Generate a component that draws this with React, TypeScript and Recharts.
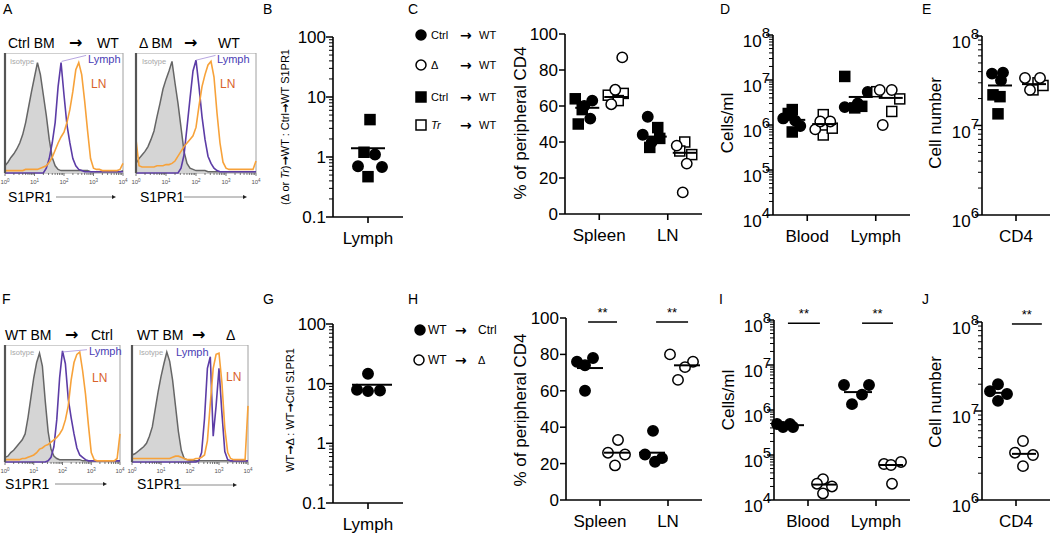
import React from "react";
import {
  ComposedChart,
  Area,
  Line,
  XAxis,
  YAxis,
  ReferenceArea,
  ReferenceLine,
  ScatterChart,
  Scatter,
} from "recharts";

const FONT = "'Liberation Sans', Arial, Helvetica, sans-serif";

// ---------- flow histograms: % of max, one bin every 0.1 log10 unit (10^0 .. 10^4)
const A1_ISO = [6, 9, 13, 16, 20, 25, 32, 42, 55, 68, 80, 92, 82, 65, 48, 28, 13, 6, 3, 2, 2, 2, 2, 2, 2, 2, 2, 2, 2, 1, 1, 1, 1, 1, 1, 1, 1, 1, 1, 1, 2];
const A1_LYMPH = [0, 0, 0, 0, 0, 0, 0, 0, 0, 0, 0, 0, 0, 0, 4, 12, 25, 42, 72, 92, 65, 40, 25, 12, 6, 3, 2, 1, 1, 1, 1, 1, 1, 1, 1, 1, 1, 1, 1, 1, 1];
const A1_LN = [2, 2, 2, 2, 2, 2, 2, 3, 3, 3, 3, 3, 4, 5, 6, 9, 13, 19, 25, 30, 34, 42, 53, 68, 86, 92, 82, 60, 35, 12, 4, 3, 3, 2, 2, 2, 2, 2, 2, 3, 8];

const A2_ISO = [8, 12, 15, 18, 22, 28, 35, 47, 58, 70, 78, 85, 93, 75, 58, 38, 18, 8, 4, 3, 2, 2, 2, 2, 1, 1, 1, 1, 1, 1, 1, 1, 1, 1, 1, 1, 1, 1, 1, 1, 1];
const A2_LYMPH = [0, 0, 0, 0, 0, 0, 0, 0, 0, 0, 0, 0, 0, 0, 0, 4, 15, 38, 62, 85, 94, 72, 47, 28, 14, 8, 4, 2, 1, 1, 1, 1, 1, 1, 1, 1, 1, 1, 1, 1, 1];
const A2_LN = [28, 6, 5, 5, 5, 5, 5, 6, 6, 6, 7, 7, 8, 10, 14, 18, 22, 25, 28, 31, 38, 56, 72, 82, 90, 93, 80, 50, 25, 9, 4, 3, 3, 3, 3, 3, 3, 3, 3, 3, 10];

const F1_ISO = [4, 5, 8, 10, 13, 16, 19, 24, 38, 55, 72, 85, 93, 82, 52, 26, 11, 5, 3, 2, 2, 2, 2, 2, 2, 2, 2, 1, 1, 1, 1, 1, 1, 1, 1, 1, 1, 1, 1, 1, 1];
const F1_LYMPH = [0, 0, 0, 0, 0, 0, 0, 0, 0, 0, 0, 0, 0, 0, 0, 1, 4, 13, 36, 72, 95, 84, 54, 38, 24, 12, 6, 4, 2, 1, 1, 1, 1, 1, 1, 1, 1, 1, 1, 1, 1];
const F1_LN = [2, 2, 2, 2, 2, 2, 3, 3, 4, 5, 6, 8, 11, 12, 14, 15, 17, 19, 21, 24, 28, 36, 48, 70, 85, 92, 94, 78, 58, 32, 8, 2, 1, 1, 1, 1, 1, 1, 1, 3, 24];

const F2_ISO = [6, 7, 9, 11, 13, 16, 22, 30, 45, 60, 73, 84, 94, 86, 70, 48, 26, 10, 3, 2, 1, 1, 1, 1, 1, 1, 1, 1, 1, 1, 1, 1, 1, 1, 1, 1, 1, 1, 1, 1, 1];
const F2_LYMPH = [0, 0, 0, 0, 0, 0, 0, 0, 0, 0, 0, 0, 0, 0, 0, 0, 0, 0, 0, 0, 0, 0, 0, 1, 8, 37, 80, 90, 22, 48, 80, 42, 9, 2, 1, 1, 1, 1, 1, 1, 1];
const F2_LN = [3, 3, 3, 3, 3, 3, 3, 3, 3, 3, 3, 3, 3, 3, 4, 5, 5, 4, 3, 2, 2, 2, 3, 3, 4, 6, 18, 50, 80, 92, 93, 68, 29, 8, 3, 2, 2, 2, 2, 2, 48];

// ---------- dot plots: values per category (outer array = category)
const B_CATS = ["Lymph"];
const B_SQUARE = [[4.2, 1.2, 0.47]];
const B_CIRCLE = [[1.1, 0.7, 0.68]];
const B_MEAN = [[1.4]];

const C_CATS = ["Spleen", "LN"];
const C_CTRL_CIRCLE = [[63, 53, 60], [54, 44, 40]];
const C_CTRL_SQUARE = [[64, 50, 58], [48, 42, 37]];
const C_DELTA_CIRCLE = [[87, 69, 61], [38, 28, 12]];
const C_TR_SQUARE = [[66, 67, 63], [40, 33, 35]];
const C_MEAN_CTRL = [[59], [43]];
const C_MEAN_MUT = [[65], [34]];

const D_CATS = ["Blood", "Lymph"];
const D_CTRL_CIRCLE = [[1.4e6, 0.95e6, 1.25e6], [2.5e6, 5.4e6, 3.0e6]];
const D_CTRL_SQUARE = [[2.2e6, 0.7e6, 1.8e6], [1.2e7, 2.4e6, 2.6e6]];
const D_DELTA_CIRCLE = [[0.8e6, 1.2e6, 1.2e6], [6e6, 6e6, 1e6]];
const D_TR_SQUARE = [[1.7e6, 0.6e6, 0.85e6], [5.5e6, 3.8e6, 2e6]];
const D_MEAN_CTRL = [[1.3e6], [4.2e6]];
const D_MEAN_MUT = [[1.05e6], [4e6]];

const E_CATS = ["CD4"];
const E_CTRL_CIRCLE = [[3.8e7, 3.9e7, 3.2e7]];
const E_CTRL_SQUARE = [[2.2e7, 2.1e7, 1.35e7]];
const E_DELTA_CIRCLE = [[3.4e7, 3.4e7, 2.5e7]];
const E_TR_SQUARE = [[3.0e7, 2.5e7, 2.8e7]];
const E_MEAN_CTRL = [[2.8e7]];
const E_MEAN_MUT = [[2.9e7]];

const G_CATS = ["Lymph"];
const G_CIRCLE = [[14.7, 7.9, 7.5, 7.7]];
const G_MEAN = [[9.6]];

const H_CATS = ["Spleen", "LN"];
const H_CTRL = [[76, 78, 74, 60], [38, 25, 21, 23]];
const H_DELTA = [[33, 26, 25, 19], [80, 76, 73, 66]];
const H_MEAN_CTRL = [[72.5], [26]];
const H_MEAN_DELTA = [[26], [74]];

const I_CATS = ["Blood", "Lymph"];
const I_CTRL = [[4.9e5, 4.2e5, 4.9e5, 4.2e5], [3.6e6, 3.6e6, 2.2e6, 1.35e6]];
const I_DELTA = [[2.9e4, 2.3e4, 2.0e4, 1.4e4], [6.3e4, 6e4, 7e4, 2.3e4]];
const I_MEAN_CTRL = [[4.6e5], [2.5e6]];
const I_MEAN_DELTA = [[2.2e4], [6e4]];

const J_CATS = ["CD4"];
const J_CTRL = [[2e7, 1.67e7, 1.55e7, 1.3e7]];
const J_DELTA = [[4.6e6, 3.4e6, 3.2e6, 2.4e6]];
const J_MEAN_CTRL = [[1.6e7]];
const J_MEAN_DELTA = [[3.3e6]];

// axis tick values
const LIN_TICKS = [0, 20, 40, 60, 80, 100];
const RATIO_DECADES = [0.1, 1, 10, 100];
const CELLS_DECADES = [1e4, 1e5, 1e6, 1e7, 1e8];
const CD4_DECADES = [1e6, 1e7, 1e8];
const HIST_DECADES = [0, 1, 2, 3, 4];

// ---------- layout: horizontal scatter of the dots, px from category centre
const JIT = {
  bSq: [[2, -4, 0]], bCi: [[7, -10, 14]], bMean: [[0]],
  cCc: [[-7, -9, -15], [-20, -25, -16]], cCs: [[-24, -21, -17], [-10, -8, -18]],
  cDc: [[23, 16, 12], [9, 19, 15]], cTs: [[9, 24, 19], [17, 24, 12]],
  cMc: [[-12], [-13]], cMm: [[17], [17]],
  dCc: [[-24, -7, -12], [-31, -8, -18]], dCs: [[-15, -15, -19], [-31, -21, -14]],
  dDc: [[8, 13, 23], [4, 16, 7]], dTs: [[16, 16, 25], [1, 24, 16]],
  dMc: [[-14], [-15]], dMm: [[17], [15]],
  eCc: [[-24, -13, -15]], eCs: [[-23, -16, -18]], eDc: [[9, 24, 14]], eTs: [[22, 17, 27]],
  eMc: [[-16]], eMm: [[18]],
  gCi: [[0, -11, 0, 12]], gMean: [[4]],
  hC: [[-23, -7, -15, -15], [-15, -23, -13, -6]], hD: [[18, 8, 25, 15], [2, 25, 17, 10]],
  hMc: [[-10], [-16]], hMd: [[17], [19]],
  iC: [[-31, -25, -18, -15], [-32, -7, -14, -24]], iD: [[15, 9, 24, 15], [8, 15, 25, 16]],
  iMc: [[-18], [-18]], iMd: [[16], [15]],
  jC: [[-18, -26, -9, -18]], jD: [[7, -1, 17, 7]], jMc: [[-17]], jMd: [[8]],
};

function logTicks(decades: number[]) {
  const out: number[] = [];
  for (let i = 0; i < decades.length - 1; i++) {
    for (let m = 1; m < 10; m++) out.push(decades[i] * m);
  }
  out.push(decades[decades.length - 1]);
  return out;
}

function histTicks() {
  const out: number[] = [];
  for (let i = 0; i < HIST_DECADES.length - 1; i++) {
    for (let m = 1; m < 10; m++) out.push(HIST_DECADES[i] + Math.log10(m));
  }
  out.push(HIST_DECADES[HIST_DECADES.length - 1]);
  return out;
}

function HistTick({ x, y, payload }: any) {
  const v = payload.value;
  const major = Math.abs(v - Math.round(v)) < 1e-6;
  return (
    <g>
      <line x1={x} x2={x} y1={y} y2={y + (major ? 3 : 2)} stroke="#555" strokeWidth={0.8} />
      {major && (
        <text x={x} y={y + 11} textAnchor="middle" fontSize={6} fill="#555" fontFamily={FONT}>
          10<tspan dy={-2.5} fontSize={4.5}>{Math.round(v)}</tspan>
        </text>
      )}
    </g>
  );
}

type HistProps = {
  left: number; top: number; w: number; h: number;
  iso: number[]; lymph: number[]; ln: number[];
  callout?: { x: number; y: number }[];
};

function Histogram({ left, top, w, h, iso, lymph, ln, callout }: HistProps) {
  const PAD = 8;
  const rows = iso.map((v, i) => ({ x: i / 10, iso: v, lymph: lymph[i], ln: ln[i] }));
  return (
    <div style={{ position: "absolute", left: left - PAD, top }}>
      <ComposedChart width={w + 2 * PAD} height={h + 16} data={rows} margin={{ top: 0, right: PAD, bottom: 0, left: PAD }}>
        <XAxis
          type="number"
          dataKey="x"
          domain={[0, 4]}
          ticks={histTicks()}
          interval={0}
          height={16}
          tickSize={0}
          tickMargin={0}
          axisLine={false}
          tick={(p: any) => <HistTick {...p} />}
        />
        <YAxis hide type="number" domain={[0, 100]} />
        <ReferenceArea x1={0} x2={4} y1={0} y2={100} fill="none" stroke="#a0a0a0" strokeWidth={1} />
        <Area dataKey="iso" type="linear" fill="#d5d5d5" fillOpacity={1} stroke="#666" strokeWidth={1.5} isAnimationActive={false} />
        <Line dataKey="lymph" type="linear" stroke="#5c3ca6" strokeWidth={1.6} dot={false} isAnimationActive={false} />
        <Line dataKey="ln" type="linear" stroke="#f7a23a" strokeWidth={1.6} dot={false} isAnimationActive={false} />
        <ReferenceLine x={0} stroke="#555" strokeWidth={2.2} />
        {callout && <ReferenceLine segment={callout} stroke="#a48fd8" strokeWidth={0.8} ifOverflow="visible" />}
      </ComposedChart>
    </div>
  );
}

function YTick({ x, y, payload, kind }: any) {
  const v = payload.value;
  if (kind === "lin") {
    return (
      <g>
        <line x1={x} x2={x - 6} y1={y} y2={y} stroke="#000" strokeWidth={1.5} />
        <text x={x - 7} y={y + 6} textAnchor="end" fontSize={17} fontFamily={FONT} fill="#000">{v}</text>
      </g>
    );
  }
  const e = Math.log10(v);
  const major = Math.abs(e - Math.round(e)) < 1e-6;
  return (
    <g>
      <line x1={x} x2={x - (major ? 7 : 4)} y1={y} y2={y} stroke="#000" strokeWidth={major ? 1.5 : 1} />
      {major && kind === "dec" && (
        <text x={x - 7} y={y + 6} textAnchor="end" fontSize={17} fontFamily={FONT} fill="#000">
          {v >= 1 ? String(Math.round(v)) : v.toFixed(1)}
        </text>
      )}
      {major && kind === "pow" && (
        <text x={x - 3} y={y + 12} textAnchor="end" fontSize={17} fontFamily={FONT} fill="#000">
          10<tspan dy={-9} fontSize={15}>{Math.round(e)}</tspan>
        </text>
      )}
    </g>
  );
}

type Series = {
  vals: number[][];
  jit: number[][];
  kind: "circle" | "square" | "mean";
  filled?: boolean;
  hw?: number;
};

function markShape(s: Series) {
  return (p: any) => {
    const { cx, cy } = p;
    if (s.kind === "mean") {
      const hw = s.hw ?? 13;
      return <line x1={cx - hw} x2={cx + hw} y1={cy} y2={cy} stroke="#000" strokeWidth={2} />;
    }
    const fill = s.filled ? "#000" : "#fff";
    if (s.kind === "square") {
      return <rect x={cx - 5} y={cy - 5} width={10} height={10} fill={fill} stroke="#000" strokeWidth={1.5} />;
    }
    return <circle cx={cx} cy={cy} r={5.2} fill={fill} stroke="#000" strokeWidth={1.5} />;
  };
}

type PanelProps = {
  x0: number; x1: number; y0: number; y1: number;
  cats: string[];
  log: boolean;
  domain: [number, number];
  ticks: number[];
  tickKind: "lin" | "dec" | "pow";
  series: Series[];
  sig?: { from: number; to: number; y: number }[];
};

function DotPanel({ x0, x1, y0, y1, cats, log, domain, ticks, tickKind, series, sig }: PanelProps) {
  const W = 60;
  const TOP = 16;
  const BOT = 36;
  const right = Math.max(0, Math.min(6, 1050 - x1));
  const span = cats.length * 2;
  const unit = (x1 - x0) / span;
  const catX = cats.map((_, i) => 1 + 2 * i);
  const pts = (s: Series) =>
    s.vals.flatMap((arr, ci) => arr.map((v, k) => ({ x: catX[ci] + s.jit[ci][k] / unit, y: v })));
  return (
    <div style={{ position: "absolute", left: x0 - W, top: y0 - TOP }}>
      <ScatterChart
        width={W + (x1 - x0) + right}
        height={TOP + (y1 - y0) + BOT}
        margin={{ top: TOP, right, bottom: 0, left: 0 }}
      >
        <XAxis
          type="number"
          dataKey="x"
          domain={[0, span]}
          ticks={catX}
          interval={0}
          tickFormatter={(v: number) => cats[(v - 1) / 2]}
          height={BOT}
          tickSize={6}
          tickMargin={9}
          axisLine={{ stroke: "#000", strokeWidth: 1.6 }}
          tickLine={{ stroke: "#000", strokeWidth: 1.6 }}
          tick={{ fill: "#000", fontSize: 17, fontFamily: FONT }}
        />
        <YAxis
          type="number"
          dataKey="y"
          scale={log ? "log" : "linear"}
          domain={domain}
          ticks={ticks}
          interval={0}
          width={W}
          tickSize={0}
          tickMargin={0}
          axisLine={{ stroke: "#000", strokeWidth: 1.6 }}
          tickLine={false}
          tick={(p: any) => <YTick {...p} kind={tickKind} />}
        />
        {series.map((s, i) => (
          <Scatter key={i} data={pts(s)} shape={markShape(s)} isAnimationActive={false} />
        ))}
        {sig?.map((b, i) => (
          <ReferenceLine
            key={"s" + i}
            segment={[{ x: b.from, y: b.y }, { x: b.to, y: b.y }]}
            stroke="#000"
            strokeWidth={1.5}
            ifOverflow="visible"
            label={{ value: "**", position: "top", fontSize: 13, fill: "#000", fontFamily: FONT }}
          />
        ))}
      </ScatterChart>
    </div>
  );
}

const ARROW_FONT = "'DejaVu Sans', sans-serif";

function Arrow({ x, y, size = 16 }: { x: number; y: number; size?: number }) {
  return (
    <text x={x} y={y} fontSize={size} fontWeight="bold" fontFamily={ARROW_FONT} fill="#000">→</text>
  );
}

function AxisArrow({ x1, x2, y }: { x1: number; x2: number; y: number }) {
  return (
    <g>
      <line x1={x1} x2={x2 - 3} y1={y} y2={y} stroke="#8a8a8a" strokeWidth={1} />
      <polygon points={`${x2},${y} ${x2 - 4},${y - 2} ${x2 - 4},${y + 2}`} fill="#222" />
    </g>
  );
}

function VLabel({ x, y, size = 17, children }: { x: number; y: number; size?: number; children: React.ReactNode }) {
  return (
    <text
      x={x}
      y={y}
      transform={`rotate(-90 ${x} ${y})`}
      textAnchor="middle"
      dominantBaseline="central"
      fontSize={size}
      fontFamily={FONT}
      fill="#000"
    >
      {children}
    </text>
  );
}

function LegendSym({ x, y, kind, filled }: { x: number; y: number; kind: "circle" | "square"; filled: boolean }) {
  const fill = filled ? "#000" : "#fff";
  return kind === "circle" ? (
    <circle cx={x} cy={y} r={5} fill={fill} stroke="#000" strokeWidth={1.5} />
  ) : (
    <rect x={x - 5} y={y - 5} width={10} height={10} fill={fill} stroke="#000" strokeWidth={1.5} />
  );
}

function Overlay() {
  const t = (x: number, y: number, s: string, size = 14, extra: any = {}) => (
    <text x={x} y={y} fontSize={size} fontFamily={FONT} fill="#000" {...extra}>{s}</text>
  );
  const legC: { kind: "circle" | "square"; filled: boolean; label: React.ReactNode; y: number }[] = [
    { kind: "circle", filled: true, label: "Ctrl", y: 35 },
    { kind: "circle", filled: false, label: "Δ", y: 65 },
    { kind: "square", filled: true, label: "Ctrl", y: 97 },
    { kind: "square", filled: false, label: <tspan fontStyle="italic">Tr</tspan>, y: 125 },
  ];
  return (
    <svg width={1050} height={535} style={{ position: "absolute", left: 0, top: 0, pointerEvents: "none" }}>
      {/* panel letters */}
      {t(3, 14, "A")}
      {t(263, 14, "B")}
      {t(408, 14, "C")}
      {t(720, 14, "D")}
      {t(922, 14, "E")}
      {t(2, 304, "F")}
      {t(263, 304, "G")}
      {t(408, 304, "H")}
      {t(719, 304, "I")}
      {t(922, 304, "J")}

      {/* histogram titles */}
      {t(8, 48, "Ctrl BM")}
      <Arrow x={69} y={48} />
      {t(97, 48, "WT")}
      {t(139, 48, "Δ BM")}
      <Arrow x={184} y={48} />
      {t(218, 48, "WT")}
      {t(5, 340, "WT BM")}
      <Arrow x={65} y={340} />
      {t(91, 340, "Ctrl")}
      {t(137, 340, "WT BM")}
      <Arrow x={192} y={340} />
      {t(226, 340, "Δ")}

      {/* histogram annotations */}
      {t(10, 64, "Isotype", 7.5, { fill: "#a8a8a8" })}
      {t(142, 64, "Isotype", 7.5, { fill: "#a8a8a8" })}
      {t(10, 355, "Isotype", 7.5, { fill: "#a8a8a8" })}
      {t(139, 355, "Isotype", 7.5, { fill: "#a8a8a8" })}
      {t(88, 63, "Lymph", 11, { fill: "#4a3db5" })}
      {t(217, 63, "Lymph", 11, { fill: "#4a3db5" })}
      {t(89, 355, "Lymph", 11, { fill: "#4a3db5" })}
      {t(176, 356, "Lymph", 11, { fill: "#4a3db5" })}
      {t(91, 88, "LN", 12, { fill: "#d9622b" })}
      {t(220, 88, "LN", 12, { fill: "#d9622b" })}
      {t(92, 382, "LN", 12, { fill: "#d9622b" })}
      {t(226, 381, "LN", 12, { fill: "#d9622b" })}

      {/* histogram x labels */}
      {t(8, 202, "S1PR1")}
      <AxisArrow x1={56} x2={116} y={197} />
      {t(140, 202, "S1PR1")}
      <AxisArrow x1={184} x2={247} y={197} />
      {t(5, 489, "S1PR1")}
      <AxisArrow x1={55} x2={107} y={484} />
      {t(137, 489, "S1PR1")}
      <AxisArrow x1={177} x2={237} y={485} />

      {/* legend C */}
      {legC.map((r, i) => (
        <g key={i}>
          <LegendSym x={421} y={r.y} kind={r.kind} filled={r.filled} />
          <text x={431} y={r.y + 4} fontSize={11} fontFamily={FONT} fill="#000">{r.label}</text>
          <Arrow x={460} y={r.y + 5} size={14} />
          {t(479, r.y + 4, "WT", 11)}
        </g>
      ))}

      {/* legend H */}
      <LegendSym x={420} y={330} kind="circle" filled={true} />
      {t(428, 334, "WT", 12)}
      <Arrow x={455} y={335} size={14} />
      {t(478, 334, "Ctrl", 12)}
      <LegendSym x={419} y={360} kind="circle" filled={false} />
      {t(428, 364, "WT", 12)}
      <Arrow x={455} y={365} size={14} />
      {t(478, 364, "Δ", 11)}

      {/* y axis titles */}
      <VLabel x={285} y={127} size={11}>
        (Δ or <tspan fontStyle="italic">Tr</tspan>)<tspan fontWeight="bold" fontFamily={ARROW_FONT}>→</tspan>WT : Ctrl
        <tspan fontWeight="bold" fontFamily={ARROW_FONT}>→</tspan>WT S1PR1
      </VLabel>
      <VLabel x={290} y={410} size={11}>
        WT<tspan fontWeight="bold" fontFamily={ARROW_FONT}>→</tspan>Δ : WT
        <tspan fontWeight="bold" fontFamily={ARROW_FONT}>→</tspan>Ctrl S1PR1
      </VLabel>
      <VLabel x={520} y={123}>% of peripheral CD4</VLabel>
      <VLabel x={520} y={410}>% of peripheral CD4</VLabel>
      <VLabel x={727} y={123}>Cells/ml</VLabel>
      <VLabel x={728} y={400}>Cells/ml</VLabel>
      <VLabel x={935} y={123}>Cell number</VLabel>
      <VLabel x={935} y={402}>Cell number</VLabel>
    </svg>
  );
}

export default function App() {
  const cellsTicks = logTicks(CELLS_DECADES);
  const cd4Ticks = logTicks(CD4_DECADES);
  const ratioTicks = logTicks(RATIO_DECADES);
  return (
    <div
      style={{
        position: "absolute",
        left: 0,
        top: 0,
        width: 1050,
        height: 535,
        overflow: "hidden",
        background: "#fff",
        fontFamily: FONT,
      }}
    >
      <Histogram left={5} top={53} w={118} h={120} iso={A1_ISO} lymph={A1_LYMPH} ln={A1_LN}
        callout={[{ x: 1.92, y: 93 }, { x: 2.75, y: 98 }]} />
      <Histogram left={136} top={53} w={120} h={120} iso={A2_ISO} lymph={A2_LYMPH} ln={A2_LN}
        callout={[{ x: 2.0, y: 94 }, { x: 2.65, y: 98 }]} />
      <Histogram left={5} top={345} w={115} h={117} iso={F1_ISO} lymph={F1_LYMPH} ln={F1_LN}
        callout={[{ x: 2.0, y: 94 }, { x: 2.85, y: 96 }]} />
      <Histogram left={132} top={345} w={116} h={117} iso={F2_ISO} lymph={F2_LYMPH} ln={F2_LN} />

      <DotPanel x0={333} x1={403} y0={37} y1={217} cats={B_CATS} log domain={[0.1, 100]} ticks={ratioTicks} tickKind="dec"
        series={[
          { vals: B_SQUARE, jit: JIT.bSq, kind: "square", filled: true },
          { vals: B_CIRCLE, jit: JIT.bCi, kind: "circle", filled: true },
          { vals: B_MEAN, jit: JIT.bMean, kind: "mean", hw: 17 },
        ]} />

      <DotPanel x0={565} x1={702} y0={34} y1={214} cats={C_CATS} log={false} domain={[0, 100]} ticks={LIN_TICKS} tickKind="lin"
        series={[
          { vals: C_CTRL_SQUARE, jit: JIT.cCs, kind: "square", filled: true },
          { vals: C_CTRL_CIRCLE, jit: JIT.cCc, kind: "circle", filled: true },
          { vals: C_TR_SQUARE, jit: JIT.cTs, kind: "square", filled: false },
          { vals: C_DELTA_CIRCLE, jit: JIT.cDc, kind: "circle", filled: false },
          { vals: C_MEAN_CTRL, jit: JIT.cMc, kind: "mean", hw: 12 },
          { vals: C_MEAN_MUT, jit: JIT.cMm, kind: "mean", hw: 12 },
        ]} />

      <DotPanel x0={773} x1={910} y0={35} y1={215} cats={D_CATS} log domain={[1e4, 1e8]} ticks={cellsTicks} tickKind="pow"
        series={[
          { vals: D_CTRL_SQUARE, jit: JIT.dCs, kind: "square", filled: true },
          { vals: D_CTRL_CIRCLE, jit: JIT.dCc, kind: "circle", filled: true },
          { vals: D_TR_SQUARE, jit: JIT.dTs, kind: "square", filled: false },
          { vals: D_DELTA_CIRCLE, jit: JIT.dDc, kind: "circle", filled: false },
          { vals: D_MEAN_CTRL, jit: JIT.dMc, kind: "mean", hw: 12 },
          { vals: D_MEAN_MUT, jit: JIT.dMm, kind: "mean", hw: 12 },
        ]} />

      <DotPanel x0={982} x1={1050} y0={36} y1={215} cats={E_CATS} log domain={[1e6, 1e8]} ticks={cd4Ticks} tickKind="pow"
        series={[
          { vals: E_CTRL_SQUARE, jit: JIT.eCs, kind: "square", filled: true },
          { vals: E_CTRL_CIRCLE, jit: JIT.eCc, kind: "circle", filled: true },
          { vals: E_TR_SQUARE, jit: JIT.eTs, kind: "square", filled: false },
          { vals: E_DELTA_CIRCLE, jit: JIT.eDc, kind: "circle", filled: false },
          { vals: E_MEAN_CTRL, jit: JIT.eMc, kind: "mean", hw: 12 },
          { vals: E_MEAN_MUT, jit: JIT.eMm, kind: "mean", hw: 12 },
        ]} />

      <DotPanel x0={333} x1={403} y0={324} y1={503} cats={G_CATS} log domain={[0.1, 100]} ticks={ratioTicks} tickKind="dec"
        series={[
          { vals: G_CIRCLE, jit: JIT.gCi, kind: "circle", filled: true },
          { vals: G_MEAN, jit: JIT.gMean, kind: "mean", hw: 20 },
        ]} />

      <DotPanel x0={566} x1={702} y0={318} y1={500} cats={H_CATS} log={false} domain={[0, 100]} ticks={LIN_TICKS} tickKind="lin"
        series={[
          { vals: H_CTRL, jit: JIT.hC, kind: "circle", filled: true },
          { vals: H_DELTA, jit: JIT.hD, kind: "circle", filled: false },
          { vals: H_MEAN_CTRL, jit: JIT.hMc, kind: "mean", hw: 13 },
          { vals: H_MEAN_DELTA, jit: JIT.hMd, kind: "mean", hw: 13 },
        ]}
        sig={[{ from: 0.65, to: 1.5, y: 97.8 }, { from: 2.65, to: 3.59, y: 97.8 }]} />

      <DotPanel x0={774} x1={910} y0={320} y1={500} cats={I_CATS} log domain={[1e4, 1e8]} ticks={cellsTicks} tickKind="pow"
        series={[
          { vals: I_CTRL, jit: JIT.iC, kind: "circle", filled: true },
          { vals: I_DELTA, jit: JIT.iD, kind: "circle", filled: false },
          { vals: I_MEAN_CTRL, jit: JIT.iMc, kind: "mean", hw: 14 },
          { vals: I_MEAN_DELTA, jit: JIT.iMd, kind: "mean", hw: 12 },
        ]}
        sig={[{ from: 0.41, to: 1.35, y: 8.5e7 }, { from: 2.59, to: 3.5, y: 8.5e7 }]} />

      <DotPanel x0={982} x1={1050} y0={322} y1={500} cats={J_CATS} log domain={[1e6, 1e8]} ticks={cd4Ticks} tickKind="pow"
        series={[
          { vals: J_CTRL, jit: JIT.jC, kind: "circle", filled: true },
          { vals: J_DELTA, jit: JIT.jD, kind: "circle", filled: false },
          { vals: J_MEAN_CTRL, jit: JIT.jMc, kind: "mean", hw: 12 },
          { vals: J_MEAN_DELTA, jit: JIT.jMd, kind: "mean", hw: 12 },
        ]}
        sig={[{ from: 0.88, to: 1.76, y: 9.5e7 }]} />

      <Overlay />
    </div>
  );
}
